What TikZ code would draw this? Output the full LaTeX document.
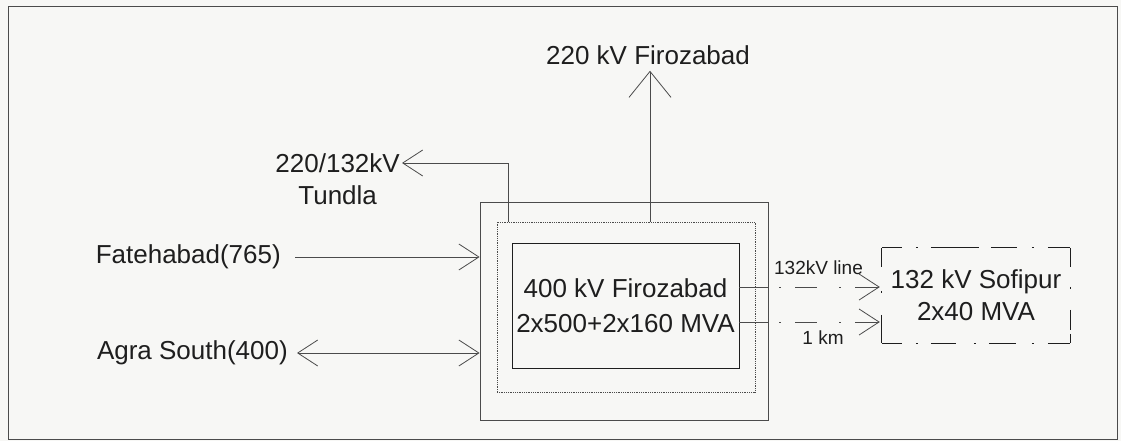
\documentclass[tikz,border=0pt]{standalone}
\usepackage{fontspec}
\setmainfont{Liberation Sans}
\usetikzlibrary{
  arrows.meta,
  positioning,
  calc
}
\definecolor{inkgray}{RGB}{30,30,30}
\definecolor{linegray}{RGB}{75,75,75}
\definecolor{paper}{RGB}{247,247,245}

\begin{document}
\begin{tikzpicture}[x=1pt, y=-1pt,
    every node/.style={font=\fontsize{26}{32}\selectfont, text=inkgray, inner sep=0pt},
    smalllbl/.style={font=\fontsize{19}{22}\selectfont},
    feeder/.style={draw=linegray, line width=0.8pt},
    barb/.style={-{Straight Barb[length=20pt,width=26pt,line width=0.8pt]}},
    bigbarb/.style={-{Straight Barb[length=26pt,width=42pt,line width=0.8pt]}},
    barbs/.style={{Straight Barb[length=20pt,width=26pt,line width=0.8pt]}-{Straight Barb[length=20pt,width=26pt,line width=0.8pt]}},
    dashdot/.style={dash pattern=on 0pt off 11pt on 2pt off 14pt on 22pt off 22pt on 2pt off 14pt on 40pt off 10pt},
    sofedge/.style={draw=inkgray, line width=0.9pt}]
            \fill[paper] (0,0) rectangle (1121,441);
            \draw[linegray, line width=0.9pt] (8,6) rectangle (1117,439);

            \node[draw=linegray, line width=0.8pt, minimum width=288pt, minimum height=218pt] (outer) at (624,311) {};
            \node[draw=linegray, line width=0.8pt, densely dotted, minimum width=258pt, minimum height=170pt] (mid) at (626,307) {};
            \node[draw=inkgray, line width=0.9pt, minimum width=227pt, minimum height=125pt, align=center, font=\fontsize{26}{35}\selectfont] (fzb400) at (625.5,305.5) {400 kV Firozabad\\2x500+2x160 MVA};
            \node[minimum width=188pt, minimum height=95pt, align=center] (sofipur) at (976,295.5) {132 kV Sofipur\\2x40 MVA};
            \draw[sofedge, dash pattern=on 20pt off 14pt on 2pt off 13pt on 48pt off 12pt on 26pt off 15pt on 2pt off 14pt on 22pt] (sofipur.north west) -- (sofipur.north east);
            \draw[sofedge, dash pattern=on 20pt off 14pt on 2pt off 13pt on 25pt off 18pt on 2pt off 13pt on 27pt off 16pt on 2pt off 14pt on 22pt] (sofipur.south west) -- (sofipur.south east);
            \draw[sofedge, dash pattern=on 19pt off 24pt on 2pt off 22pt on 28pt] (sofipur.north west) -- (sofipur.south west);
            \draw[sofedge, dash pattern=on 19pt off 20pt on 2pt off 21pt on 20pt off 4pt on 9pt] (sofipur.north east) -- (sofipur.south east);

            \node (fz220) at (648,55) {220 kV Firozabad};
            \node[anchor=east] (tv) at (400,163) {220/132kV};
            \node[below=13pt of tv] (tundla) {Tundla};
            \node[anchor=east] (fateh) at (281,257) {Fatehabad(765)};
            \node[anchor=east] (agra) at (288,353) {Agra South(400)};
            \node[smalllbl] (linelbl) at (818.5,268) {132kV line};
            \node[smalllbl] (kmlbl) at (823,338) {1 km};

            \coordinate (fzx) at (650,0);
            \coordinate (tunx) at (508,0);
            \coordinate (fztip) at ([yshift=-6pt]fz220.south);
            \coordinate (ya) at (0,287);
            \coordinate (yb) at (0,322);
            \coordinate (sofin) at ([xshift=-2pt]sofipur.west);

            \draw[feeder, bigbarb] (mid.north -| fzx) -- (fztip -| fzx);
            \draw[feeder, barb] (mid.north -| tunx) |- ([xshift=2pt]tv.east);
            \draw[feeder, barb] ([xshift=14pt]fateh.east) -- (fateh.east -| outer.west);
            \draw[feeder, barbs] ([xshift=9pt]agra.east) -- (agra.east -| outer.west);

            \draw[feeder] (fzb400.east |- ya) -- (outer.east |- ya);
            \draw[feeder] (fzb400.east |- yb) -- (outer.east |- yb);
            \draw[feeder, barb, dashdot] (outer.east |- ya) -- (sofin |- ya);
            \draw[feeder, barb, dashdot] (outer.east |- yb) -- (sofin |- yb);
        \end{tikzpicture}
\end{document}
